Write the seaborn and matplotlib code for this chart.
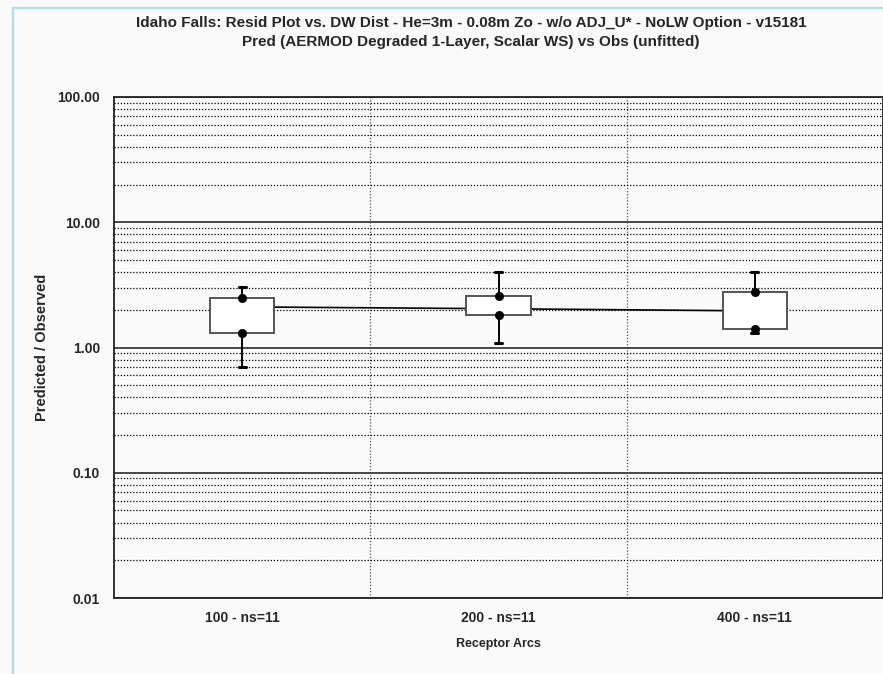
import matplotlib
matplotlib.use("Agg")
import matplotlib.pyplot as plt
from matplotlib.patches import Rectangle
from matplotlib.ticker import FixedLocator, NullFormatter
import numpy as np
import pandas as pd
import seaborn as sns

# Residual summary per receptor arc (Predicted / Observed)
arcs = ["100 - ns=11", "200 - ns=11", "400 - ns=11"]
q75 = [2.50, 2.58, 2.75]
q25 = [1.30, 1.82, 1.41]
whisker_hi = [3.06, 4.03, 4.03]
whisker_lo = [0.70, 1.08, 1.31]
means = [2.11, 2.04, 1.96]
y_ticks = [0.01, 0.1, 1.0, 10.0, 100.0]

sns.set_style("white")
plt.rcParams["font.family"] = ["Liberation Sans", "DejaVu Sans"]
plt.rcParams["font.weight"] = "bold"

bg = "#fafafa"
fig = plt.figure(figsize=(8.83, 6.74), dpi=100, facecolor=bg)
ax = fig.add_axes([114 / 883, 1 - 598 / 674, 769 / 883, 501 / 674])
ax.set_facecolor(bg)

pos = np.arange(len(arcs))
df = pd.DataFrame({"x": pos, "mean": means})

# line through the arc means
sns.lineplot(data=df, x="x", y="mean", ax=ax, color="black", linewidth=1.2,
             zorder=2, legend=False)

# boxes with whiskers
stats = [dict(med=q25[i], q1=q25[i], q3=q75[i], whislo=whisker_lo[i],
              whishi=whisker_hi[i], fliers=[]) for i in range(len(arcs))]
ax.bxp(stats, positions=pos, widths=0.25, patch_artist=True,
       boxprops=dict(facecolor="white", edgecolor="#555555", linewidth=1.4),
       whiskerprops=dict(color="black", linewidth=1.4),
       capprops=dict(color="black", linewidth=2.2),
       medianprops=dict(linewidth=0), capwidths=0.028,
       showfliers=False, zorder=3)

# percentile markers at the box edges
pts = pd.DataFrame({"x": np.concatenate([pos, pos]),
                    "v": np.concatenate([q75, q25])})
sns.scatterplot(data=pts, x="x", y="v", ax=ax, color="black", s=36,
                edgecolor="black", zorder=4, legend=False)

# axes, ticks and grid
ax.set_yscale("log")
ax.set_ylim(0.01, 100)
ax.set_xlim(-0.5, len(arcs) - 0.5)
ax.yaxis.set_major_locator(FixedLocator(y_ticks))
ax.yaxis.set_minor_locator(FixedLocator(
    [m * 10.0 ** e for e in range(-2, 2) for m in range(2, 10)]))
ax.yaxis.set_minor_formatter(NullFormatter())
ax.set_yticklabels([f"{v:.2f}" for v in y_ticks])
ax.set_xticks(pos)
ax.set_xticklabels(arcs)
ax.set_xticks(pos[:-1] + 0.5, minor=True)
ax.grid(which="major", axis="y", color="#3a3a3a", linewidth=1.3, linestyle="-")
ax.grid(which="minor", axis="y", color="black", linewidth=0.9, linestyle=(0, (1, 1.5)))
ax.grid(which="minor", axis="x", color="#555555", linewidth=0.9, linestyle=(0, (1, 1.5)))
ax.set_axisbelow(True)
ax.tick_params(which="both", length=0)
ax.tick_params(axis="y", pad=10, labelsize=10)
ax.tick_params(axis="x", pad=9, labelsize=10)

ax.set_xlabel("Receptor Arcs", fontsize=9, fontweight="bold")
ax.set_ylabel("Predicted / Observed", fontsize=10.5, fontweight="bold")
ax.yaxis.set_label_coords(-(114 - 49) / 769, 0.5)
ax.xaxis.set_label_coords(0.5, -(638 - 598) / 501)
for s in ax.spines.values():
    s.set_color("#222222")
    s.set_linewidth(1.3)

fig.text(471 / 883, 1 - 23 / 674,
         "Idaho Falls: Resid Plot vs. DW Dist - He=3m - 0.08m Zo - w/o ADJ_U* - NoLW Option - v15181",
         ha="center", va="center", fontsize=11, fontweight="bold")
fig.text(471 / 883, 1 - 42 / 674,
         "Pred (AERMOD Degraded 1-Layer, Scalar WS) vs Obs (unfitted)",
         ha="center", va="center", fontsize=11, fontweight="bold")

# outer frame
fig.patches.append(Rectangle((13 / 883, -0.05), 1.2, 1 - 8 / 674 + 0.05,
                             transform=fig.transFigure, fill=False,
                             edgecolor="#b5dde6", linewidth=1.6, zorder=0))

fig.savefig("out.png", dpi=100, facecolor=bg)
